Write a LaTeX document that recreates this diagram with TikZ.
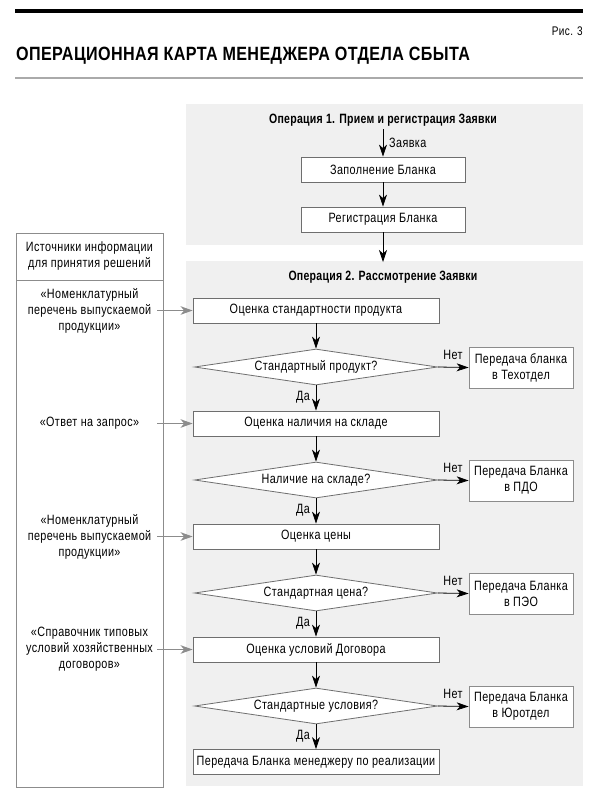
\documentclass[tikz,border=0pt]{standalone}
\usepackage{fontspec}
\setmainfont{Liberation Sans}[FakeStretch=0.8,LetterSpace=3]
\newfontfamily\titlefont{Liberation Sans}[FakeStretch=0.84,LetterSpace=2]
\newfontfamily\opfont{Liberation Sans}[FakeStretch=0.78,LetterSpace=2]
\usetikzlibrary{shapes.geometric,arrows.meta}
\definecolor{panelgray}{RGB}{240,240,240}
\definecolor{boxline}{RGB}{110,110,110}
\definecolor{srcline}{RGB}{140,140,140}
\definecolor{rulegray}{RGB}{170,170,170}
\begin{document}
\begin{tikzpicture}[x=1pt,y=-1pt,
  txt/.style={font=\fontsize{13.5}{16}\selectfont, inner sep=0pt},
  stepbox/.style={txt, draw=boxline, fill=white, line width=0.8pt, minimum height=25pt, align=center},
  mainbox/.style={stepbox, minimum width=246pt},
  opbox/.style={stepbox, minimum width=164pt},
  sidebox/.style={stepbox, minimum width=104pt, minimum height=41pt, draw=srcline},
  decision/.style={txt, shape=diamond, draw=boxline, fill=white, line width=0.8pt, aspect=6.75, minimum width=243pt, minimum height=36pt},
  flow/.style={-{Stealth[length=12pt,width=8pt,inset=3.5pt]}, line width=0.8pt},
  srcarrow/.style={-{Stealth[length=12pt,width=8.5pt,inset=3.5pt]}, draw=srcline, line width=1.4pt},
  panel/.style={fill=panelgray, draw=none, inner sep=0pt},
  srctext/.style={txt, align=center},
  optitle/.style={font=\opfont\bfseries\fontsize{13.5}{16}\selectfont, inner sep=0pt},
  lbl/.style={txt}
]
\useasboundingbox (0,0) rectangle (600,807);

% header
\draw[line width=4pt] (15,11) -- (583,11);
\node[font=\fontsize{12.5}{14}\selectfont, inner sep=0pt, anchor=base east] (fig) at (583,35) {Рис. 3};
\node[font=\titlefont\bfseries\fontsize{19.2}{21}\selectfont, inner sep=0pt, anchor=base west] (title) at (16,60) {ОПЕРАЦИОННАЯ КАРТА МЕНЕДЖЕРА ОТДЕЛА СБЫТА};
\draw[rulegray, line width=1.2pt] (15,78) -- (583,78);

% panels
\node[panel, minimum width=397pt, minimum height=141pt] (op1) at (384.5,174.5) {};
\node[panel, minimum width=397pt, minimum height=525pt] (op2) at (384.5,523.5) {};
\node[draw=srcline, fill=white, line width=0.9pt, inner sep=0pt, minimum width=147pt, minimum height=554pt] (lp) at (89.5,510) {};
\draw[srcline, line width=0.9pt] (16,280) -- (163,280);
\node[srctext] (hdr) at (89.5,256.5) {Источники информации\\для принятия решений};

% operation 1
\node[optitle] (op1t) at (383,120) {Операция 1. Прием и регистрация Заявки};
\coordinate (in1) at (383,129);
\node[opbox] (b1) at (383,169.5) {Заполнение Бланка};
\node[opbox] (b2) at (383,219.5) {Регистрация Бланка};
\node[lbl, anchor=west] (zv) at (389,143) {Заявка};
\draw[flow] (in1) -- (b1.north);
\draw[flow] (b1.south) -- (b2.north);
\coordinate (in2) at (383,262);
\draw[flow] (b2.south) -- (in2);

% operation 2
\node[optitle] (op2t) at (383,277.5) {Операция 2. Рассмотрение Заявки};

\node[mainbox] (c0) at (316,310.5) {Оценка стандартности продукта};
\node[decision] (d0) at (316,367) {Стандартный продукт?};
\node[sidebox] (r0) at (521,367.5) {Передача бланка\\в Техотдел};
\node[mainbox] (c1) at (316,423.5) {Оценка наличия на складе};
\node[decision] (d1) at (316,480) {Наличие на складе?};
\node[sidebox] (r1) at (521,480.5) {Передача Бланка\\в ПДО};
\node[mainbox] (c2) at (316,536.5) {Оценка цены};
\node[decision] (d2) at (316,593) {Стандартная цена?};
\node[sidebox] (r2) at (521,593.5) {Передача Бланка\\в ПЭО};
\node[mainbox] (c3) at (316,649.5) {Оценка условий Договора};
\node[decision] (d3) at (316,706) {Стандартные условия?};
\node[sidebox] (r3) at (521,706.5) {Передача Бланка\\в Юротдел};
\node[mainbox] (c4) at (316,762) {Передача Бланка менеджеру по реализации};

\foreach \k/\n in {0/1,1/2,2/3,3/4} {
  \draw[flow] (c\k.south) -- (d\k.north);
  \draw[flow] (d\k.south) -- (c\n.north);
  \draw[flow] (d\k.east) -- (r\k.west);
}
\node[lbl] (no0) at (453,355) {Нет};
\node[lbl] (no1) at (453,468) {Нет};
\node[lbl] (no2) at (453,581) {Нет};
\node[lbl] (no3) at (453,694) {Нет};
\node[lbl] (yes0) at (303,397) {Да};
\node[lbl] (yes1) at (303,510) {Да};
\node[lbl] (yes2) at (303,623) {Да};
\node[lbl] (yes3) at (303,736) {Да};

% information sources
\node[srctext] (s0) at (89.5,311) {«Номенклатурный\\перечень выпускаемой\\продукции»};
\node[srctext] (s1) at (89.5,423.5) {«Ответ на запрос»};
\node[srctext] (s2) at (89.5,536.5) {«Номенклатурный\\перечень выпускаемой\\продукции»};
\node[srctext] (s3) at (89.5,649.5) {«Справочник типовых\\условий хозяйственных\\договоров»};
\coordinate (a0) at (157,310.5);
\coordinate (a1) at (157,423.5);
\coordinate (a2) at (157,536.5);
\coordinate (a3) at (157,649.5);
\foreach \k in {0,1,2,3} {
  \draw[srcarrow] (a\k) -- (c\k.west);
}
\end{tikzpicture}
\end{document}
